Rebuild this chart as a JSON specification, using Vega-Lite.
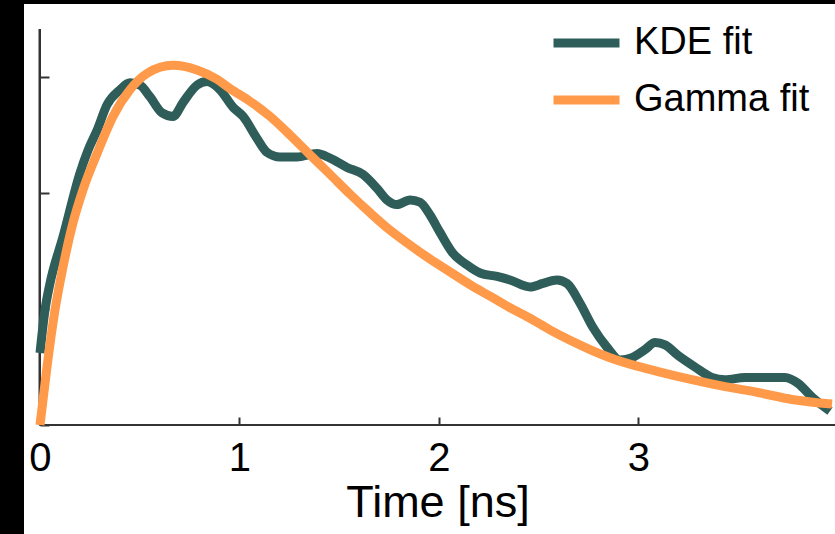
{
  "$schema": "https://vega.github.io/schema/vega-lite/v6.json",
  "width": 811,
  "height": 530,
  "autosize": {"type": "none"},
  "padding": {"left": 24, "top": 4, "right": 0, "bottom": 0},
  "background": "black",
  "config": {"view": {"fill": "white", "stroke": null}, "font": "Liberation Sans"},
  "data": {"values": [
    {"series": "KDE fit", "t": 0.000, "d": 0.0621},
    {"series": "KDE fit", "t": 0.025, "d": 0.0991},
    {"series": "KDE fit", "t": 0.050, "d": 0.122},
    {"series": "KDE fit", "t": 0.115, "d": 0.162},
    {"series": "KDE fit", "t": 0.200, "d": 0.217},
    {"series": "KDE fit", "t": 0.241, "d": 0.237},
    {"series": "KDE fit", "t": 0.286, "d": 0.254},
    {"series": "KDE fit", "t": 0.336, "d": 0.276},
    {"series": "KDE fit", "t": 0.401, "d": 0.289},
    {"series": "KDE fit", "t": 0.451, "d": 0.295},
    {"series": "KDE fit", "t": 0.501, "d": 0.293},
    {"series": "KDE fit", "t": 0.551, "d": 0.283},
    {"series": "KDE fit", "t": 0.612, "d": 0.269},
    {"series": "KDE fit", "t": 0.667, "d": 0.266},
    {"series": "KDE fit", "t": 0.717, "d": 0.278},
    {"series": "KDE fit", "t": 0.787, "d": 0.293},
    {"series": "KDE fit", "t": 0.837, "d": 0.296},
    {"series": "KDE fit", "t": 0.902, "d": 0.289},
    {"series": "KDE fit", "t": 0.967, "d": 0.274},
    {"series": "KDE fit", "t": 1.018, "d": 0.266},
    {"series": "KDE fit", "t": 1.088, "d": 0.247},
    {"series": "KDE fit", "t": 1.138, "d": 0.235},
    {"series": "KDE fit", "t": 1.203, "d": 0.231},
    {"series": "KDE fit", "t": 1.288, "d": 0.231},
    {"series": "KDE fit", "t": 1.388, "d": 0.234},
    {"series": "KDE fit", "t": 1.454, "d": 0.230},
    {"series": "KDE fit", "t": 1.539, "d": 0.222},
    {"series": "KDE fit", "t": 1.619, "d": 0.216},
    {"series": "KDE fit", "t": 1.689, "d": 0.204},
    {"series": "KDE fit", "t": 1.739, "d": 0.194},
    {"series": "KDE fit", "t": 1.789, "d": 0.190},
    {"series": "KDE fit", "t": 1.855, "d": 0.194},
    {"series": "KDE fit", "t": 1.905, "d": 0.192},
    {"series": "KDE fit", "t": 1.955, "d": 0.181},
    {"series": "KDE fit", "t": 2.005, "d": 0.166},
    {"series": "KDE fit", "t": 2.070, "d": 0.148},
    {"series": "KDE fit", "t": 2.140, "d": 0.138},
    {"series": "KDE fit", "t": 2.206, "d": 0.131},
    {"series": "KDE fit", "t": 2.291, "d": 0.128},
    {"series": "KDE fit", "t": 2.356, "d": 0.125},
    {"series": "KDE fit", "t": 2.456, "d": 0.119},
    {"series": "KDE fit", "t": 2.521, "d": 0.122},
    {"series": "KDE fit", "t": 2.591, "d": 0.125},
    {"series": "KDE fit", "t": 2.642, "d": 0.122},
    {"series": "KDE fit", "t": 2.707, "d": 0.105},
    {"series": "KDE fit", "t": 2.772, "d": 0.084},
    {"series": "KDE fit", "t": 2.842, "d": 0.067},
    {"series": "KDE fit", "t": 2.907, "d": 0.056},
    {"series": "KDE fit", "t": 2.967, "d": 0.058},
    {"series": "KDE fit", "t": 3.033, "d": 0.065},
    {"series": "KDE fit", "t": 3.083, "d": 0.071},
    {"series": "KDE fit", "t": 3.133, "d": 0.069},
    {"series": "KDE fit", "t": 3.198, "d": 0.060},
    {"series": "KDE fit", "t": 3.283, "d": 0.050},
    {"series": "KDE fit", "t": 3.368, "d": 0.041},
    {"series": "KDE fit", "t": 3.434, "d": 0.039},
    {"series": "KDE fit", "t": 3.534, "d": 0.041},
    {"series": "KDE fit", "t": 3.634, "d": 0.041},
    {"series": "KDE fit", "t": 3.734, "d": 0.041},
    {"series": "KDE fit", "t": 3.799, "d": 0.036},
    {"series": "KDE fit", "t": 3.870, "d": 0.024},
    {"series": "KDE fit", "t": 3.960, "d": 0.012},
    {"series": "Gamma fit", "t": 0.000, "d": 0.000},
    {"series": "Gamma fit", "t": 0.035, "d": 0.050},
    {"series": "Gamma fit", "t": 0.075, "d": 0.099},
    {"series": "Gamma fit", "t": 0.115, "d": 0.136},
    {"series": "Gamma fit", "t": 0.165, "d": 0.174},
    {"series": "Gamma fit", "t": 0.216, "d": 0.203},
    {"series": "Gamma fit", "t": 0.286, "d": 0.234},
    {"series": "Gamma fit", "t": 0.366, "d": 0.266},
    {"series": "Gamma fit", "t": 0.451, "d": 0.289},
    {"series": "Gamma fit", "t": 0.536, "d": 0.303},
    {"series": "Gamma fit", "t": 0.667, "d": 0.310},
    {"series": "Gamma fit", "t": 0.787, "d": 0.306},
    {"series": "Gamma fit", "t": 0.887, "d": 0.298},
    {"series": "Gamma fit", "t": 0.952, "d": 0.290},
    {"series": "Gamma fit", "t": 1.053, "d": 0.279},
    {"series": "Gamma fit", "t": 1.153, "d": 0.266},
    {"series": "Gamma fit", "t": 1.253, "d": 0.250},
    {"series": "Gamma fit", "t": 1.353, "d": 0.233},
    {"series": "Gamma fit", "t": 1.454, "d": 0.216},
    {"series": "Gamma fit", "t": 1.554, "d": 0.199},
    {"series": "Gamma fit", "t": 1.654, "d": 0.183},
    {"series": "Gamma fit", "t": 1.754, "d": 0.168},
    {"series": "Gamma fit", "t": 1.855, "d": 0.155},
    {"series": "Gamma fit", "t": 1.955, "d": 0.143},
    {"series": "Gamma fit", "t": 2.055, "d": 0.132},
    {"series": "Gamma fit", "t": 2.155, "d": 0.121},
    {"series": "Gamma fit", "t": 2.256, "d": 0.111},
    {"series": "Gamma fit", "t": 2.356, "d": 0.101},
    {"series": "Gamma fit", "t": 2.456, "d": 0.092},
    {"series": "Gamma fit", "t": 2.556, "d": 0.082},
    {"series": "Gamma fit", "t": 2.657, "d": 0.073},
    {"series": "Gamma fit", "t": 2.757, "d": 0.065},
    {"series": "Gamma fit", "t": 2.857, "d": 0.058},
    {"series": "Gamma fit", "t": 3.008, "d": 0.050},
    {"series": "Gamma fit", "t": 3.098, "d": 0.046},
    {"series": "Gamma fit", "t": 3.268, "d": 0.039},
    {"series": "Gamma fit", "t": 3.434, "d": 0.033},
    {"series": "Gamma fit", "t": 3.599, "d": 0.028},
    {"series": "Gamma fit", "t": 3.769, "d": 0.022},
    {"series": "Gamma fit", "t": 3.970, "d": 0.018}
  ]},
  "layer": [
    {
      "mark": {"type": "rule", "color": "#333333", "strokeWidth": 2},
      "encoding": {"x": {"datum": 0}, "y": {"datum": 0}, "y2": {"datum": 0.3414}}
    },
    {
      "mark": {"type": "rule", "color": "#333333", "strokeWidth": 2},
      "encoding": {"y": {"datum": 0}, "x": {"datum": 0}, "x2": {"datum": 3.985}}
    },
    {
      "mark": {"type": "line", "strokeWidth": 9, "strokeJoin": "round", "strokeCap": "butt", "interpolate": "monotone"},
      "encoding": {
        "x": {
          "field": "t", "type": "quantitative",
          "scale": {"domain": [-0.0802, 3.985], "nice": false, "zero": false},
          "axis": {
            "values": [0, 1, 2, 3], "format": "d", "domain": false, "grid": false, "offset": -109,
            "tickSize": -8, "tickWidth": 2, "tickColor": "#333333",
            "labelFontSize": 40, "labelColor": "black", "labelPadding": 21, "labelFont": "Liberation Sans",
            "title": "Time [ns]", "titleFontSize": 45, "titleFontWeight": "normal", "titleColor": "black",
            "titleFont": "Liberation Sans", "titleX": 413.5, "titleY": 91, "titleBaseline": "alphabetic", "titleAnchor": "middle"
          }
        },
        "y": {
          "field": "d", "type": "quantitative",
          "scale": {"domain": [-0.094, 0.3629], "nice": false, "zero": false},
          "axis": {
            "values": [0, 0.1, 0.2, 0.3], "domain": false, "grid": false, "offset": -16,
            "labels": false, "tickSize": -9, "tickWidth": 2, "tickColor": "#333333", "title": null
          }
        },
        "color": {
          "field": "series", "type": "nominal",
          "scale": {"domain": ["KDE fit", "Gamma fit"], "range": ["#2F5E5A", "#FF9A4A"]},
          "legend": {
            "orient": "none", "legendX": 525, "legendY": 1.5, "title": null, "padding": 0,
            "symbolType": "stroke", "symbolStrokeWidth": 9, "symbolSize": 4356,
            "labelFontSize": 38, "labelFont": "Liberation Sans", "labelColor": "black", "labelLimit": 400,
            "labelOffset": 10, "rowPadding": -10
          }
        }
      }
    }
  ]
}
